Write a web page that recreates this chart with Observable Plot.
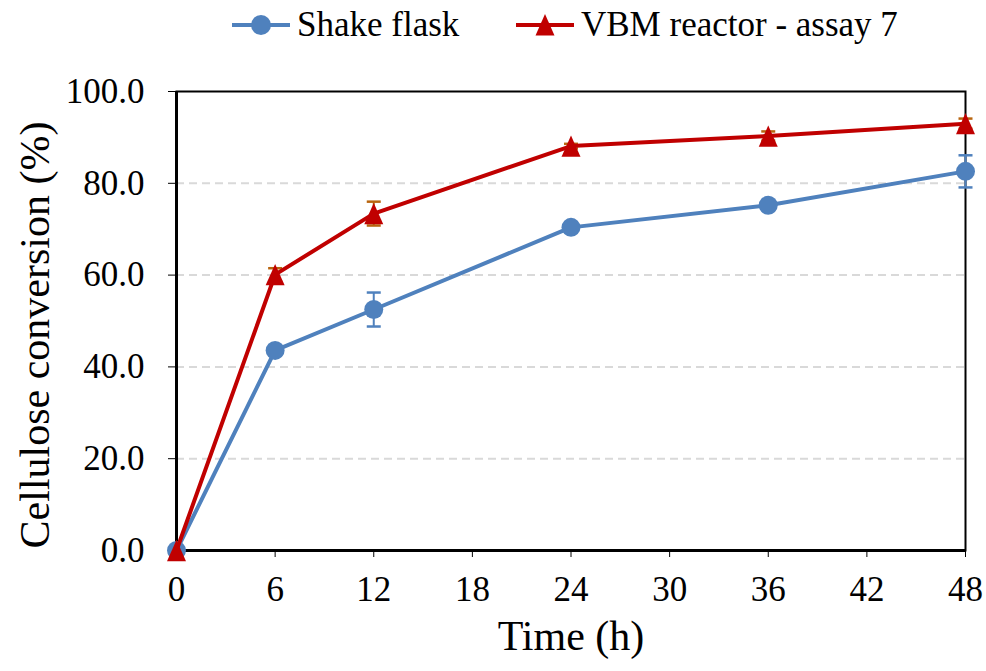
<!DOCTYPE html>
<html>
<head>
<meta charset="utf-8">
<script src="https://cdn.jsdelivr.net/npm/d3@7"></script>
<script src="https://cdn.jsdelivr.net/npm/@observablehq/plot@0.6"></script>
<style>
  html, body { margin: 0; padding: 0; background: #fff; }
  #wrap { position: relative; width: 986px; height: 671px; font-family: "Liberation Serif", "Times New Roman", serif; }
  #legend { position: relative; width: 986px; height: 60px; }
  .item { position: absolute; top: 7px; display: flex; align-items: center; font-family: "Liberation Serif", "Times New Roman", serif; font-size: 35px; line-height: 36px; color: #000; white-space: nowrap; }
  .item svg { margin-right: 6px; }
</style>
</head>
<body>
<div id="wrap">
  <div id="legend"></div>
  <div id="chart"></div>
</div>
<script>
// ---- data ----
const times = [0, 6, 12, 24, 36, 48];
const shakeFlask = [0, 43.6, 52.5, 70.4, 75.2, 82.6];
const shakeFlaskErr = [0, 1.0, 3.7, 1.0, 1.0, 3.5];
const vbmReactor = [0, 60.1, 73.4, 88.1, 90.3, 93.0];
const vbmReactorErr = [0, 1.4, 2.6, 0.5, 1.0, 1.1];
const seriesNames = ["Shake flask", "VBM reactor - assay 7"];
const xTicks = [0, 6, 12, 18, 24, 30, 36, 42, 48];
const yTicks = [0, 20, 40, 60, 80, 100];
const gridTicks = [20, 40, 60, 80];

const blue = "#4f81bd";
const red = "#c00000";
const errRed = "#b8650f";
const serif = "'Liberation Serif', 'Times New Roman', serif";

const rows = (vals, errs, name) => times.map((t, i) => ({time: t, value: vals[i], err: errs[i], series: name}));
const sf = rows(shakeFlask, shakeFlaskErr, seriesNames[0]);
const vbm = rows(vbmReactor, vbmReactorErr, seriesNames[1]);

// custom symbols
const tri = { draw(ctx, size) { const r = Math.sqrt(size / Math.PI); const hw = r, hh = r * 1.12;
  ctx.moveTo(0, -hh); ctx.lineTo(hw, hh); ctx.lineTo(-hw, hh); ctx.closePath(); } };
const hline = { draw(ctx, size) { const r = Math.sqrt(size / Math.PI);
  ctx.moveTo(-r, 0); ctx.lineTo(r, 0); } };

function errMarks(data, color) {
  const d = data.filter(r => r.err > 0);
  return [
    Plot.ruleX(d, {x: "time", y1: r => r.value - r.err, y2: r => r.value + r.err, stroke: color, strokeWidth: 2}),
    Plot.dot(d, {x: "time", y: r => r.value + r.err, symbol: hline, r: 7, stroke: color, strokeWidth: 2.5, fill: "none"}),
    Plot.dot(d, {x: "time", y: r => r.value - r.err, symbol: hline, r: 7, stroke: color, strokeWidth: 2.5, fill: "none"})
  ];
}

const chart = Plot.plot({
  width: 986,
  height: 611,
  marginTop: 31,
  marginBottom: 121,
  marginLeft: 176,
  marginRight: 21,
  style: {fontFamily: serif, background: "#fff", color: "#000"},
  x: {domain: [0, 48]},
  y: {domain: [0, 100]},
  marks: [
    Plot.ruleY(gridTicks, {stroke: "#d9d9d9", strokeWidth: 2, strokeDasharray: "8,5"}),
    Plot.frame({stroke: "#000", strokeWidth: 2}),
    Plot.axisY({ticks: yTicks, tickFormat: d3.format(".1f"), tickSize: 8, tickPadding: 24, tickStrokeWidth: 2.5, fontSize: 35, label: null}),
    Plot.axisX({ticks: xTicks, tickFormat: d => String(d), tickSize: 7, tickPadding: 19, tickStrokeWidth: 2.5, fontSize: 35, label: null}),
    Plot.ruleX([0], {stroke: "#000", strokeWidth: 3}),
    Plot.ruleY([0], {stroke: "#000", strokeWidth: 3}),
    ...errMarks(sf, blue),
    Plot.line(sf, {x: "time", y: "value", stroke: blue, strokeWidth: 4}),
    Plot.dot(sf, {x: "time", y: "value", r: 9.5, fill: blue, stroke: "none"}),
    ...errMarks(vbm, errRed),
    Plot.line(vbm, {x: "time", y: "value", stroke: red, strokeWidth: 4}),
    Plot.dot(vbm, {x: "time", y: "value", symbol: tri, r: 9.5, fill: red, stroke: "none"}),
    Plot.text(["Time (h)"], {frameAnchor: "bottom", textAnchor: "middle", dy: 99, fontSize: 42, fill: "#000"}),
    Plot.text(["Cellulose conversion (%)"], {frameAnchor: "left", textAnchor: "middle", rotate: -90, dx: -141, dy: 14, fontSize: 42, fill: "#000"})
  ]
});
document.getElementById("chart").appendChild(chart);

// legend
const legend = document.getElementById("legend");
function legendItem(name, color, markerSvg, left) {
  const div = document.createElement("div");
  div.className = "item";
  div.style.left = left + "px";
  div.innerHTML = `<svg width="60" height="30" viewBox="0 0 60 30"><line x1="1" y1="15" x2="59" y2="15" stroke="${color}" stroke-width="4"/>${markerSvg}</svg><span>${name}</span>`;
  legend.appendChild(div);
}
legendItem(seriesNames[0], blue, `<circle cx="30" cy="15" r="10" fill="${blue}"/>`, 231);
legendItem(seriesNames[1], red, `<path d="M30,4 L39.5,25.5 L20.5,25.5 Z" fill="${red}"/>`, 515);
</script>
</body>
</html>
